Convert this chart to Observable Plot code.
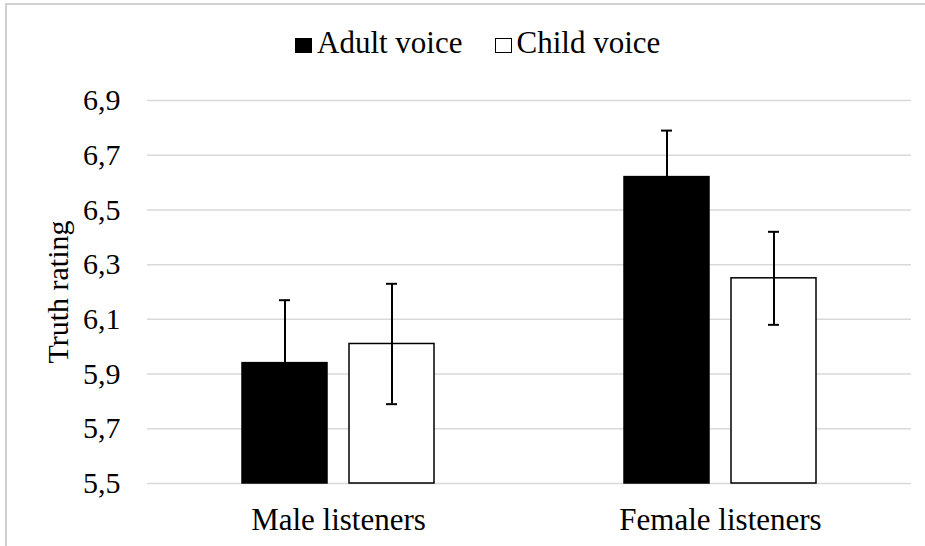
<!DOCTYPE html>
<html>
<head>
<meta charset="utf-8">
<script src="https://cdn.jsdelivr.net/npm/d3@7"></script>
<script src="https://cdn.jsdelivr.net/npm/@observablehq/plot@0.6"></script>
<style>
  body { margin: 0; background: #fff; font-family: "Liberation Serif", "Times New Roman", serif; }
  #frame { position: relative; width: 925px; height: 546px; overflow: hidden; background: #fff; }
  #border { position: absolute; left: 5px; top: 3px; right: -10px; bottom: -10px;
            border-left: 2px solid #d0d0d0; border-top: 2px solid #d0d0d0; pointer-events: none; }
  #legend { position: absolute; left: 295px; top: 28px; font-size: 31px; line-height: 30px;
            white-space: nowrap; color: #000; }
  .item { display: inline-block; }
  .sw { display: inline-block; width: 17px; height: 15px; box-sizing: border-box;
        vertical-align: baseline; margin-right: 5px; }
  #chart { position: absolute; left: 0; top: 80px; }
</style>
</head>
<body>
<div id="frame">
  <div id="legend"></div>
  <div id="chart"></div>
  <div id="border"></div>
</div>
<script>
// ---- data ----
const groups = ["Male listeners", "Female listeners"];
const voices = ["Adult voice", "Child voice"];
const adultMeans = [5.94, 6.62];
const childMeans = [6.01, 6.25];
const adultErr = [0.23, 0.17];
const childErr = [0.22, 0.17];
const yTicks = [5.5, 5.7, 5.9, 6.1, 6.3, 6.5, 6.7, 6.9];
const barFills = ["#000000", "#ffffff"];

const data = groups.flatMap((g, i) => [
  {group: g, voice: voices[0], mean: adultMeans[i], err: adultErr[i]},
  {group: g, voice: voices[1], mean: childMeans[i], err: childErr[i]}
]);

const fmt = d => d3.format(".1f")(d).replace(".", ",");

// ---- legend ----
const legend = document.getElementById("legend");
voices.forEach((v, i) => {
  const item = document.createElement("span");
  item.className = "item";
  if (i > 0) item.style.marginLeft = "32px";
  const sw = document.createElement("span");
  sw.className = "sw";
  sw.style.background = barFills[i];
  sw.style.border = i === 0 ? "none" : "1.6px solid #000";
  item.appendChild(sw);
  item.appendChild(document.createTextNode(v));
  legend.appendChild(item);
});

// ---- chart ----
const chart = Plot.plot({
  width: 925,
  height: 466,
  marginTop: 20,
  marginBottom: 63,
  marginLeft: 147,
  marginRight: 14,
  style: {fontFamily: "'Liberation Serif', 'Times New Roman', serif", fontSize: "30px", color: "#000", background: "transparent", overflow: "visible"},
  fx: {domain: groups, padding: 0, label: null},
  x: {domain: voices, axis: null, paddingInner: 0.2056, paddingOuter: 0.885},
  y: {domain: [yTicks[0], yTicks[yTicks.length - 1]], ticks: yTicks, tickFormat: fmt, tickSize: 0, tickPadding: 27,
      label: "Truth rating", labelAnchor: "center", labelArrow: "none", labelOffset: 101},
  color: {domain: voices, range: barFills},
  marks: [
    Plot.ruleY(yTicks, {stroke: "#d9d9d9", strokeWidth: 1.5}),
    Plot.axisFx({anchor: "bottom", tickSize: 0, tickPadding: 24, fontSize: 31, label: null}),
    Plot.barY(data, {fx: "group", x: "voice", y1: () => yTicks[0], y2: "mean", fill: "voice", stroke: "#000", strokeWidth: 1.5}),
    Plot.ruleX(data, {fx: "group", x: "voice", y1: d => d.mean - d.err, y2: d => d.mean + d.err, stroke: "#000", strokeWidth: 2}),
    Plot.tickY(data, {fx: "group", x: "voice", y: d => d.mean + d.err, insetLeft: 37, insetRight: 37, stroke: "#000", strokeWidth: 2}),
    Plot.tickY(data, {fx: "group", x: "voice", y: d => d.mean - d.err, insetLeft: 37, insetRight: 37, stroke: "#000", strokeWidth: 2})
  ]
});
document.getElementById("chart").appendChild(chart);
</script>
</body>
</html>
